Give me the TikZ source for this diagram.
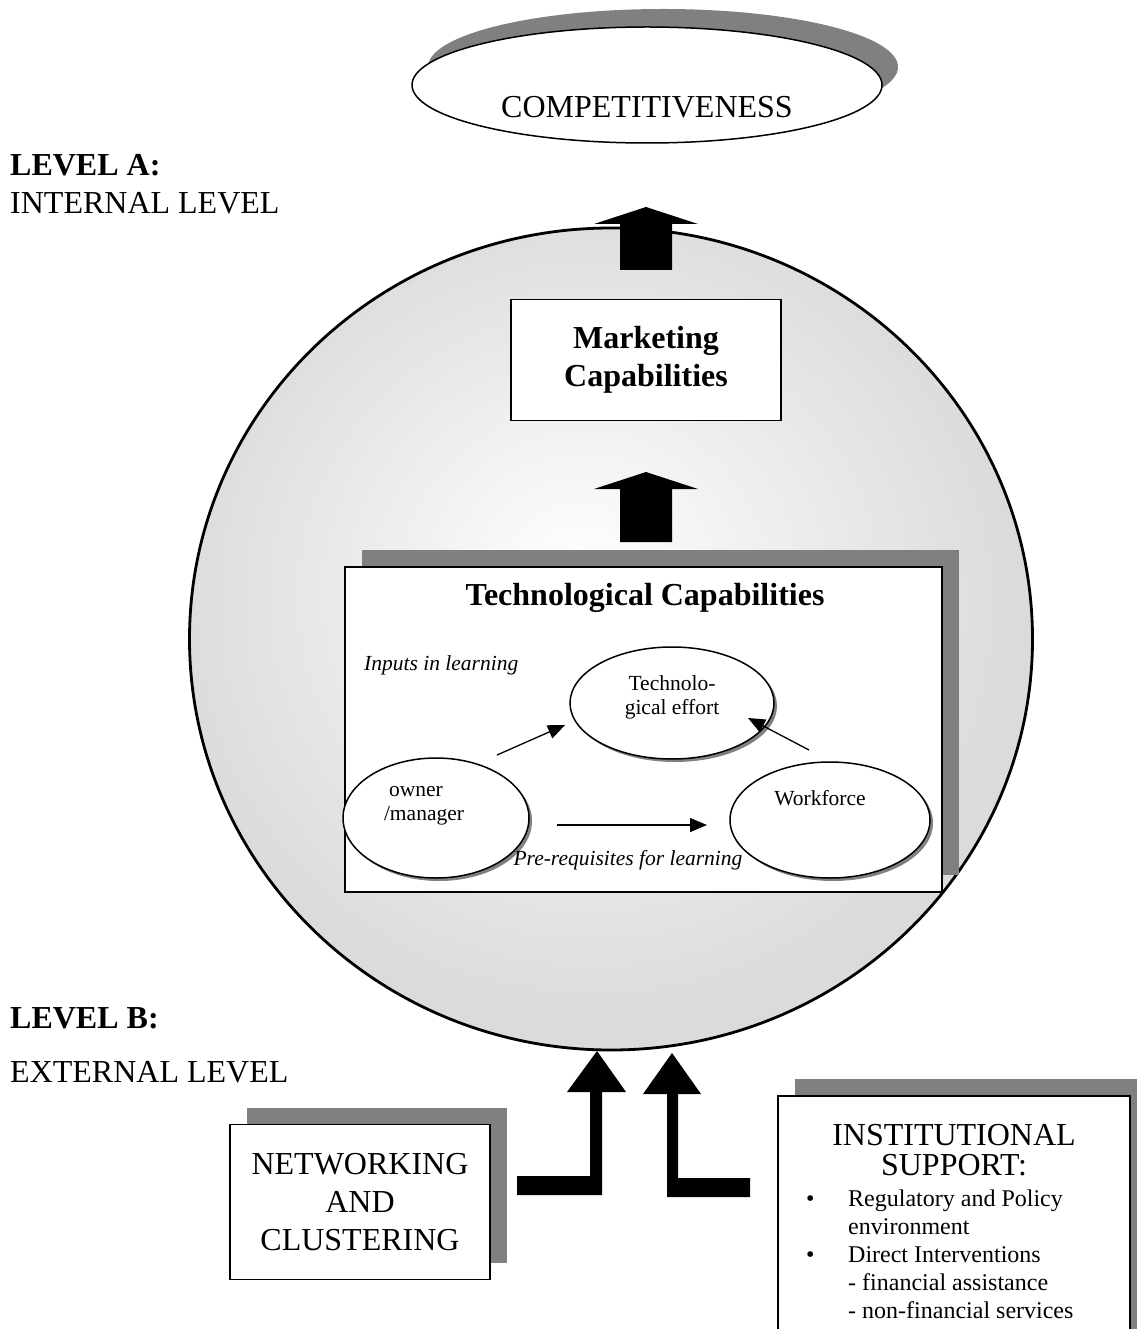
\documentclass[tikz,border=0pt]{standalone}
\usepackage{fontspec}
\setmainfont{Liberation Serif}
\usetikzlibrary{arrows.meta,shapes.geometric,shadows,positioning}

\pgfdeclareradialshading{firmglow}{\pgfpoint{-2bp}{4bp}}{color(0bp)=(white); color(25bp)=(black!14); color(50bp)=(black!14)}

\tikzset{
  big/.style={font=\fontsize{32}{38}\selectfont},
  bigbold/.style={font=\fontsize{32}{38}\selectfont\bfseries},
  mid/.style={font=\fontsize{24}{28}\selectfont},
  small/.style={font=\fontsize{21.5}{24}\selectfont},
  plainbox/.style={draw, line width=1.5pt, fill=white, align=center, inner sep=0pt},
  capbox/.style={plainbox,
    drop shadow={opacity=1, fill=black!50, shadow xshift=17pt, shadow yshift=17pt}},
  oval/.style={draw, ellipse, line width=1.5pt, fill=white, inner sep=0pt,
    drop shadow={opacity=1, fill=black!50, shadow xshift=3pt, shadow yshift=-3pt}},
  thinarrow/.style={line width=1.3pt, -{Triangle[length=17pt,width=14pt]}},
}

\begin{document}
\begin{tikzpicture}[x=1pt, y=-1pt]
\useasboundingbox (0,0) rectangle (1136,1329);

% the firm
\node[ellipse, draw, line width=2.8pt, minimum width=843pt, minimum height=822pt, shading=firmglow] (firm) at (611,639) {};

% goal
\node[draw, ellipse, line width=1.5pt, fill=white, minimum width=470pt, minimum height=116pt,
  drop shadow={opacity=1, fill=black!50, shadow xshift=16pt, shadow yshift=18pt}] (comp) at (647,85) {};
\node[big] (comptext) at ([yshift=-22pt]comp.center) {COMPETITIVENESS};

% level labels
\node[big, anchor=west, inner sep=0pt] (levela) at (10,165) {\bfseries LEVEL A:};
\node[big, anchor=west, inner sep=0pt] (internal) at (10,203) {INTERNAL LEVEL};
\node[big, anchor=west, inner sep=0pt] (levelb) at (10,1018) {\bfseries LEVEL B:};
\node[big, anchor=west, inner sep=0pt] (external) at (10,1072) {EXTERNAL LEVEL};

% block arrows inside the firm
\foreach \base/\tip in {270/207, 542/472}
  \fill (620,\base) -- (620,\tip+17) -- (594,\tip+17) -- (646,\tip) -- (698,\tip+17) -- (672,\tip+17) -- (672,\base) -- cycle;

\node[plainbox, bigbold, minimum width=270pt, minimum height=121pt] (mkt) at (646,360) {Marketing\\Capabilities};

% technological capabilities
\node[capbox, minimum width=597pt, minimum height=325pt] (tech) at (643.5,729.5) {};
\node[bigbold] (techtitle) at (645,598) {Technological Capabilities};
\node[small, anchor=west, inner sep=0pt] (inputs) at (364,665) {\itshape Inputs in learning};

\node[oval, minimum width=204pt, minimum height=112pt] (effort) at (672,703) {};
\node[small, align=center] (efforttext) at (672,697) {Technolo-\\gical effort};
\node[oval, minimum width=186pt, minimum height=120pt] (owner) at (436,818) {};
\node[small, align=left] (ownertext) at (424,806) {\hspace{5pt}owner\\/manager};
\node[oval, minimum width=200pt, minimum height=116pt] (work) at (830,820) {};
\node[small] (worktext) at (820,798) {Workforce};
\node[small] (prereq) at (628,860) {\itshape Pre-requisites for learning};

\coordinate (ownerout) at (497,755);
\coordinate (effortin) at (565,725);
\coordinate (workout) at (809,750);
\coordinate (effortin2) at (748,718);
\coordinate (ownerright) at (557,825);
\coordinate (workin) at (707,825);
\draw[thinarrow] (ownerout) -- (effortin);
\draw[thinarrow] (workout) -- (effortin2);
\draw[thinarrow] (ownerright) -- (workin);

% external level
\node[capbox, big, minimum width=260pt, minimum height=155pt] (net) at (360,1202) {NETWORKING\\AND\\CLUSTERING};
\node[capbox, minimum width=352pt, minimum height=250pt, anchor=north] (inst) at (954,1095) {};
\node[big, align=center, font=\fontsize{32}{30}\selectfont] (insttitle) at (954,1150) {INSTITUTIONAL\\SUPPORT:};
\node[mid, anchor=north west, inner sep=0pt] (instlist) at (806,1187) {%
  \begin{tabular}{@{}p{42pt}@{}l@{}}
  \textbullet & Regulatory and Policy\\
   & environment\\
  \textbullet & Direct Interventions\\
   & - financial assistance\\
   & - non-financial services
  \end{tabular}};

% L-shaped arrows into the firm
\fill (517,1176) -- (590,1176) -- (590,1092) -- (567,1092) -- (597,1051) -- (626,1092) -- (602,1092) -- (602,1195) -- (517,1195) -- cycle;
\fill (750,1178) -- (678,1178) -- (678,1094) -- (701,1094) -- (672,1053) -- (643,1094) -- (667,1094) -- (667,1197) -- (750,1197) -- cycle;
\end{tikzpicture}
\end{document}
